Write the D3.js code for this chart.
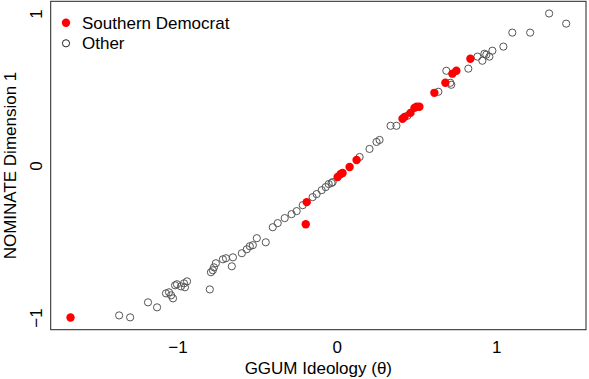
<!DOCTYPE html>
<html>
<head>
<meta charset="utf-8">
<script src="https://cdn.jsdelivr.net/npm/d3@7"></script>
<style>
  html, body { margin: 0; padding: 0; background: #fff; }
  svg { display: block; font-family: "Liberation Sans", Arial, Helvetica, sans-serif; }
</style>
</head>
<body>
<svg id="chart" width="589" height="379"></svg>
<script>
// Southern Democrats: GGUM ideal point (theta) and NOMINATE first dimension
const southernTheta = [-1.671, -0.195, -0.189, 0.005, 0.024, 0.036, 0.080, 0.124,
  0.412, 0.425, 0.462, 0.487, 0.500, 0.518, 0.612, 0.681, 0.725, 0.750, 0.838];
const southernNominate = [-1.000, -0.386, -0.241, -0.076, -0.056, -0.049, -0.010, 0.036,
  0.307, 0.320, 0.346, 0.379, 0.386, 0.386, 0.478, 0.544, 0.604, 0.623, 0.702];

// All other members
const otherTheta = [-1.366, -1.297, -1.185, -1.128, -1.072, -1.053, -1.040, -1.028,
  -1.015, -1.003, -0.978, -0.959, -0.953, -0.940, -0.797, -0.790, -0.778, -0.771,
  -0.759, -0.715, -0.696, -0.659, -0.652, -0.596, -0.565, -0.546, -0.527, -0.502,
  -0.446, -0.402, -0.371, -0.327, -0.284, -0.252, -0.214, -0.152, -0.127, -0.095,
  -0.070, -0.051, -0.033, -0.026, 0.143, 0.205, 0.249, 0.268, 0.337, 0.374, 0.443,
  0.637, 0.687, 0.712, 0.718, 0.825, 0.882, 0.913, 0.926, 0.938, 0.957, 0.976,
  1.045, 1.101, 1.213, 1.332, 1.439];
const otherNominate = [-0.986, -0.999, -0.900, -0.933, -0.841, -0.834, -0.854, -0.874,
  -0.788, -0.781, -0.795, -0.775, -0.801, -0.762, -0.815, -0.702, -0.689, -0.670,
  -0.643, -0.617, -0.610, -0.663, -0.604, -0.577, -0.551, -0.531, -0.524, -0.478,
  -0.505, -0.406, -0.379, -0.346, -0.320, -0.300, -0.261, -0.208, -0.188, -0.162,
  -0.142, -0.122, -0.115, -0.109, 0.056, 0.109, 0.155, 0.168, 0.261, 0.261, 0.327,
  0.485, 0.623, 0.544, 0.531, 0.637, 0.716, 0.689, 0.735, 0.729, 0.716, 0.755,
  0.782, 0.874, 0.874, 1.000, 0.933];

const xTicks = [-1, 0, 1];
const yTicks = [-1, 0, 1];
const legendLabels = ["Southern Democrat", "Other"];

const svg = d3.select("#chart");
const box = { left: 50.7, right: 586, top: 1.3, bottom: 329.7 };
const fontSize = 17;

// Axis ranges padded 4% beyond the data, as in base graphics
const allX = southernTheta.concat(otherTheta);
const allY = southernNominate.concat(otherNominate);
const pad = (ext) => { const d = (ext[1] - ext[0]) * 0.04; return [ext[0] - d, ext[1] + d]; };

const x = d3.scaleLinear().domain(pad(d3.extent(allX))).range([box.left, box.right]);
const y = d3.scaleLinear().domain(pad(d3.extent(allY))).range([box.bottom, box.top]);

// Plot frame
svg.append("rect")
  .attr("x", box.left).attr("y", box.top)
  .attr("width", box.right - box.left).attr("height", box.bottom - box.top)
  .attr("fill", "none").attr("stroke", "#222").attr("stroke-width", 1);

// Bottom axis: labels only
const gx = svg.append("g")
  .attr("transform", `translate(0,${box.bottom})`)
  .call(d3.axisBottom(x).tickValues(xTicks).tickSize(0).tickFormat(d3.format("d")));
gx.select(".domain").remove();
gx.selectAll("text")
  .attr("y", 23.3).attr("dy", 0)
  .attr("font-size", fontSize).attr("font-family", "Liberation Sans, Arial, sans-serif")
  .attr("fill", "#000");

// Left axis: labels rotated parallel to the axis
const gy = svg.append("g")
  .attr("transform", `translate(${box.left},0)`)
  .call(d3.axisLeft(y).tickValues(yTicks).tickSize(0).tickFormat(d3.format("d")));
gy.select(".domain").remove();
gy.selectAll("text")
  .attr("x", 0).attr("y", -8.7).attr("dy", 0)
  .attr("transform", "rotate(-90)")
  .attr("text-anchor", "middle")
  .attr("font-size", fontSize).attr("font-family", "Liberation Sans, Arial, sans-serif")
  .attr("fill", "#000");

// Axis titles
svg.append("text")
  .attr("x", (box.left + box.right) / 2).attr("y", 374)
  .attr("text-anchor", "middle").attr("font-size", fontSize)
  .text("GGUM Ideology (θ)");

svg.append("text")
  .attr("transform", `translate(16,${(box.top + box.bottom) / 2}) rotate(-90)`)
  .attr("text-anchor", "middle").attr("font-size", fontSize)
  .text("NOMINATE Dimension 1");

// Points: others as open circles, Southern Democrats as filled red dots
const others = otherTheta.map((t, i) => ({ t, n: otherNominate[i] }));
const southern = southernTheta.map((t, i) => ({ t, n: southernNominate[i] }));

svg.append("g").selectAll("circle")
  .data(others).join("circle")
  .attr("cx", d => x(d.t)).attr("cy", d => y(d.n)).attr("r", 3.6)
  .attr("fill", "none").attr("stroke", "#555").attr("stroke-width", 1);

svg.append("g").selectAll("circle")
  .data(southern).join("circle")
  .attr("cx", d => x(d.t)).attr("cy", d => y(d.n)).attr("r", 4.2)
  .attr("fill", "#ff0000");

// Legend
const legend = svg.append("g");
legend.append("circle").attr("cx", 66).attr("cy", 22.7).attr("r", 4.2).attr("fill", "#ff0000");
legend.append("circle").attr("cx", 66).attr("cy", 43.3).attr("r", 3.6)
  .attr("fill", "none").attr("stroke", "#222").attr("stroke-width", 1);
legend.selectAll("text")
  .data(legendLabels).join("text")
  .attr("x", 82).attr("y", (d, i) => 29.3 + i * 20)
  .attr("font-size", fontSize)
  .text(d => d);
</script>
</body>
</html>
